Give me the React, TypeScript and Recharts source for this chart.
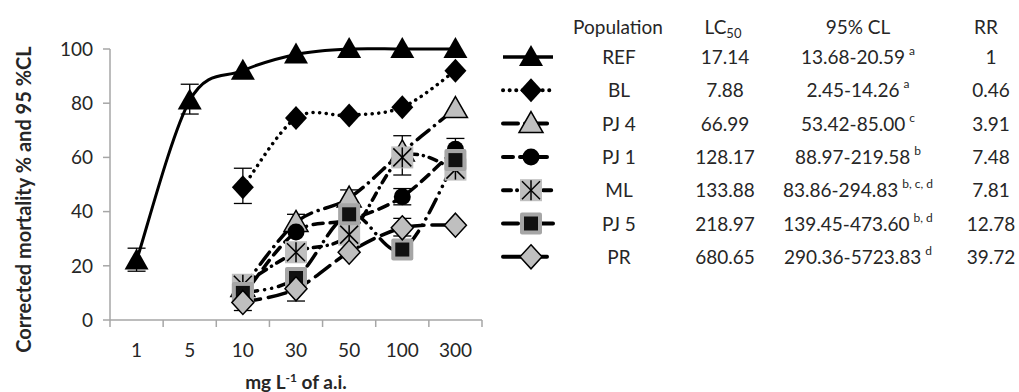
import React from 'react';
import { ComposedChart, Line, XAxis, YAxis, ErrorBar, Legend } from 'recharts';

const doses = ['1', '5', '10', '30', '50', '100', '300'];

// corrected mortality (%) per population
const refMortality = [22, 81, 92, 98, 100, 100, 100];
const blMortality = [null, null, 49, 74.5, 75.5, 78.5, 92];
const pj4Mortality = [null, null, 12, 36, 45, 62, 78];
const pj1Mortality = [null, null, 9, 32.5, 37, 45.5, 63];
const mlMortality = [null, null, 13, 25, 31.5, 60, 55.5];
const pj5Mortality = [null, null, 10, 15.5, 39, 26, 59];
const prMortality = [null, null, 6.5, 11.5, 25, 34, 35];

// 95% CL as [below, above] the mean, null where no bar shows
const refCL = [[4, 4.5], [5, 6], null, null, null, null, null];
const blCL = [null, null, [6, 7], null, null, null, null];
const pj4CL = [null, null, null, [3, 3], [3, 3], null, null];
const pj1CL = [null, null, null, null, null, [3, 3], [3.5, 4]];
const mlCL = [null, null, null, null, null, [6.5, 8], null];
const pj5CL = [null, null, null, null, null, null, null];
const prCL = [null, null, [3, 3], [4.5, 4], null, [3, 3.5], null];

// table beside the chart
const populations = ['REF', 'BL', 'PJ 4', 'PJ 1', 'ML', 'PJ 5', 'PR'];
const lc50 = ['17.14', '7.88', '66.99', '128.17', '133.88', '218.97', '680.65'];
const clRange = ['13.68-20.59', '2.45-14.26', '53.42-85.00', '88.97-219.58', '83.86-294.83', '139.45-473.60', '290.36-5723.83'];
const clGroup = ['a', 'a', 'c', 'b', 'b, c, d', 'b, d', 'd'];
const resistanceRatio = ['1', '0.46', '3.91', '7.48', '7.81', '12.78', '39.72'];

const FONT = 'Lato, "Open Sans", sans-serif';
const TEXT = '#262626';
const AXIS = '#a6a6a6';
const GREY = '#bfbfbf';

const series = [
  { key: 'REF', values: refMortality, cl: refCL, shape: 'triangle', dash: undefined },
  { key: 'BL', values: blMortality, cl: blCL, shape: 'diamond', dash: '0.1 6.5' },
  { key: 'PJ4', values: pj4Mortality, cl: pj4CL, shape: 'triangleGrey', dash: '15 7 0.1 7' },
  { key: 'PJ1', values: pj1Mortality, cl: pj1CL, shape: 'circle', dash: '10 7' },
  { key: 'ML', values: mlMortality, cl: mlCL, shape: 'star', dash: '8 6 0.1 6' },
  { key: 'PJ5', values: pj5Mortality, cl: pj5CL, shape: 'square', dash: '15 7 0.1 7 0.1 7' },
  { key: 'PR', values: prMortality, cl: prCL, shape: 'diamondGrey', dash: '18 8' },
];

const data = doses.map((dose, i) => {
  const row: Record<string, any> = { dose };
  series.forEach((s) => {
    row[s.key] = s.values[i];
    row[`${s.key}_cl`] = s.cl[i];
  });
  return row;
});

// Excel-like smoothed line (Catmull-Rom through the points)
function smoothCurve(context: any) {
  let pts: number[][] = [];
  return {
    areaStart() {},
    areaEnd() {},
    lineStart() {
      pts = [];
    },
    point(x: number, y: number) {
      pts.push([+x, +y]);
    },
    lineEnd() {
      if (!pts.length) return;
      context.moveTo(pts[0][0], pts[0][1]);
      for (let i = 0; i < pts.length - 1; i++) {
        const p0 = pts[i - 1] || pts[i];
        const p1 = pts[i];
        const p2 = pts[i + 1];
        const p3 = pts[i + 2] || p2;
        context.bezierCurveTo(
          p1[0] + (p2[0] - p0[0]) / 6,
          p1[1] + (p2[1] - p0[1]) / 6,
          p2[0] - (p3[0] - p1[0]) / 6,
          p2[1] - (p3[1] - p1[1]) / 6,
          p2[0],
          p2[1]
        );
      }
    },
  };
}

function Marker({ shape, cx, cy }: { shape: string; cx: number; cy: number }) {
  switch (shape) {
    case 'triangle':
    case 'triangleGrey':
      return (
        <polygon
          points={`${cx},${cy - 12} ${cx + 12},${cy + 9} ${cx - 12},${cy + 9}`}
          fill={shape === 'triangle' ? '#000' : GREY}
          stroke="#000"
          strokeWidth={shape === 'triangle' ? 0 : 1.5}
        />
      );
    case 'diamond':
    case 'diamondGrey':
      return (
        <polygon
          points={`${cx},${cy - 12} ${cx + 11},${cy} ${cx},${cy + 12} ${cx - 11},${cy}`}
          fill={shape === 'diamond' ? '#000' : GREY}
          stroke="#000"
          strokeWidth={shape === 'diamond' ? 0 : 1.5}
        />
      );
    case 'circle':
      return <circle cx={cx} cy={cy} r={8.5} fill="#000" />;
    case 'star':
      return (
        <g stroke="#000" strokeWidth={1.5}>
          <rect x={cx - 11} y={cy - 11} width={22} height={22} fill={GREY} stroke="none" />
          <line x1={cx} y1={cy - 10} x2={cx} y2={cy + 10} />
          <line x1={cx - 9} y1={cy - 9} x2={cx + 9} y2={cy + 9} />
          <line x1={cx + 9} y1={cy - 9} x2={cx - 9} y2={cy + 9} />
        </g>
      );
    case 'square':
      return (
        <g>
          <rect x={cx - 11} y={cy - 11} width={22} height={22} rx={2} fill={AXIS} />
          <rect x={cx - 7} y={cy - 7} width={14} height={14} fill="#111" />
        </g>
      );
    default:
      return null;
  }
}

// category ticks sit on the band edges, labels in the middle
function DoseTick(props: any) {
  const { x, y, payload, index, visibleTicksCount } = props;
  const half = payload.offset > 0 ? payload.offset : 26.6;
  return (
    <g>
      <line x1={x - half} y1={y} x2={x - half} y2={y + 7} stroke={AXIS} strokeWidth={1.5} />
      {index === visibleTicksCount - 1 && (
        <line x1={x + half} y1={y} x2={x + half} y2={y + 7} stroke={AXIS} strokeWidth={1.5} />
      )}
      <text x={x} y={y + 37} textAnchor="middle" fontFamily={FONT} fontSize={19} fill={TEXT}>
        {payload.value}
      </text>
    </g>
  );
}

function YTitle(props: any) {
  const { viewBox } = props;
  const cx = viewBox.x - 27;
  const cy = viewBox.y + viewBox.height / 2 + 15;
  return (
    <text
      x={cx}
      y={cy}
      transform={`rotate(-90 ${cx} ${cy})`}
      textAnchor="middle"
      dominantBaseline="central"
      fontFamily={FONT}
      fontSize={20}
      fontWeight="bold"
      fill={TEXT}
    >
      Corrected mortality % and 95 %CL
    </text>
  );
}

function XTitle(props: any) {
  const { viewBox } = props;
  const cx = viewBox.x + viewBox.width / 2;
  return (
    <text x={cx} y={viewBox.y + 69} textAnchor="middle" fontFamily={FONT} fontSize={19} fontWeight="bold" fill={TEXT}>
      mg L
      <tspan fontSize={12} dy={-7}>-1</tspan>
      <tspan dy={7}> of a.i.</tspan>
    </text>
  );
}

// Population table with line samples
function TableLegend() {
  const rowY = (i: number) => 57 + i * 33.3;
  const txt = { fontFamily: FONT, fontSize: 19, fill: TEXT } as const;
  return (
    <svg width={1019} height={300} style={{ display: 'block' }}>
      <text x={618} y={34} textAnchor="middle" {...txt}>Population</text>
      <text x={723} y={34} textAnchor="middle" {...txt}>
        LC<tspan fontSize={13} dy={4}>50</tspan>
      </text>
      <text x={858} y={34} textAnchor="middle" {...txt}>95% CL</text>
      <text x={986} y={34} textAnchor="middle" {...txt}>RR</text>
      {series.map((s, i) => {
        const y = rowY(i);
        return (
          <g key={s.key}>
            <line
              x1={503}
              y1={y}
              x2={553}
              y2={y}
              stroke="#000"
              strokeWidth={s.key === 'REF' ? 3.5 : 4}
              strokeDasharray={s.dash}
              strokeLinecap={s.dash ? 'round' : 'butt'}
            />
            <Marker shape={s.shape} cx={531} cy={y} />
            <text x={619} y={y + 7} textAnchor="middle" {...txt}>{populations[i]}</text>
            <text x={725} y={y + 7} textAnchor="middle" {...txt}>{lc50[i]}</text>
            <text x={858} y={y + 7} textAnchor="middle" {...txt}>
              {clRange[i]}
              <tspan fontSize={12} dx={4} dy={-9}>{clGroup[i]}</tspan>
            </text>
            <text x={991} y={y + 7} textAnchor="middle" {...txt}>{resistanceRatio[i]}</text>
          </g>
        );
      })}
    </svg>
  );
}

export default function App() {
  return (
    <div style={{ position: 'absolute', left: 0, top: 0, background: '#fff' }}>
      <ComposedChart width={1019} height={392} data={data} margin={{ top: 49, right: 537, bottom: 0, left: 50 }}>
        <XAxis
          dataKey="dose"
          scale="band"
          height={72}
          axisLine={{ stroke: AXIS, strokeWidth: 1.5 }}
          tickLine={false}
          tickSize={0}
          tickMargin={0}
          interval={0}
          tick={<DoseTick />}
          label={<XTitle />}
        />
        <YAxis
          width={60}
          domain={[0, 100]}
          ticks={[0, 20, 40, 60, 80, 100]}
          axisLine={{ stroke: AXIS, strokeWidth: 1.5 }}
          tickLine={{ stroke: AXIS, strokeWidth: 1.5 }}
          tickSize={7}
          tickMargin={10}
          tick={{ fontFamily: FONT, fontSize: 19, fill: TEXT }}
          label={<YTitle />}
        />
        <Legend
          layout="horizontal"
          verticalAlign="middle"
          align="center"
          wrapperStyle={{ left: 0, top: 0, width: 1019, height: 300 }}
          content={() => <TableLegend />}
        />
        {series.map((s) => (
          <Line
            key={s.key}
            dataKey={s.key}
            type={smoothCurve as any}
            stroke="#000"
            strokeWidth={s.key === 'REF' ? 3 : 3.5}
            strokeDasharray={s.dash}
            strokeLinecap={s.dash ? 'round' : 'butt'}
            isAnimationActive={false}
            activeDot={false}
            dot={(p: any) =>
              p.cy == null ? (
                <g key={`${s.key}-${p.index}`} />
              ) : (
                <g key={`${s.key}-${p.index}`}>
                  <Marker shape={s.shape} cx={p.cx} cy={p.cy} />
                </g>
              )
            }
          >
            <ErrorBar dataKey={`${s.key}_cl`} direction="y" width={9} stroke="#000" strokeWidth={1.3} isAnimationActive={false} />
          </Line>
        ))}
      </ComposedChart>
    </div>
  );
}
